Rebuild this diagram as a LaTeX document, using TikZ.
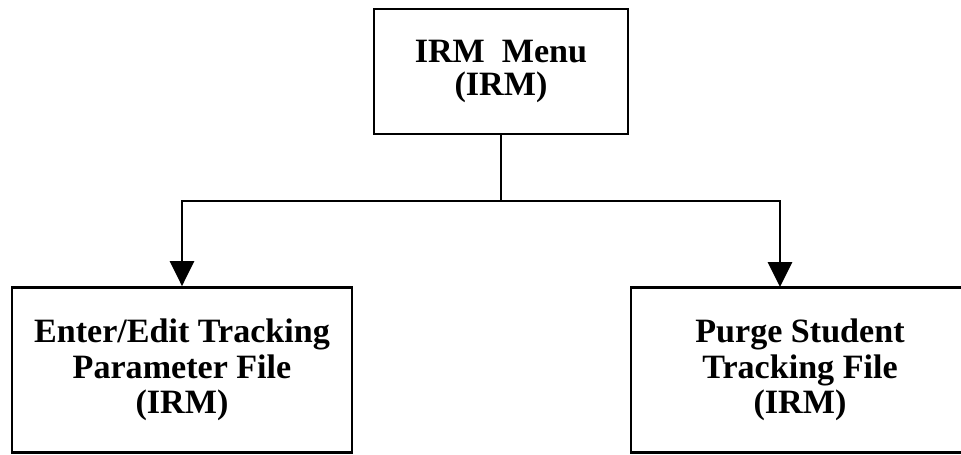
\documentclass[tikz,border=0pt]{standalone}
\usepackage{fontspec}
\setmainfont{Liberation Serif}
\usetikzlibrary{arrows.meta}
\tikzset{
  menubox/.style={draw, line width=1.6pt, align=center, inner sep=0pt,
    font=\fontsize{19.4}{19.2}\selectfont\bfseries},
  leafbox/.style={menubox, minimum height=3.3cm,
    font=\fontsize{19.4}{20.2}\selectfont\bfseries},
  downarrow/.style={line width=1.6pt, -{Triangle[width=0.48cm,length=0.5cm]}}
}

\begin{document}
\begin{tikzpicture}[x=0.02cm, y=-0.02cm]
		%%%%% START %%%%%
		\useasboundingbox (0, 0) rectangle (961, 454);
		
		\node[menubox, minimum width=5.08cm, minimum height=2.5cm] (irmmenu) at (501, 71.5) {IRM\ \ Menu\\(IRM)};
		
		\node[leafbox, minimum width=6.8cm] (enteredit) at (182, 370) {Enter/Edit Tracking\\Parameter File\\(IRM)};
		\node[leafbox, minimum width=6.76cm] (purge) at (800, 370) {Purge Student\\Tracking File\\(IRM)};
		
		\coordinate (split) at (501, 201);
		\coordinate (purgein) at (780, 287);
		
		\draw[line width=1.6pt] (irmmenu.south) -- (split);
		\draw[downarrow] (split) -| (enteredit.north);
		\draw[downarrow] (split) -| (purgein);
		
		%%%%% END %%%%%
	\end{tikzpicture}
\end{document}
